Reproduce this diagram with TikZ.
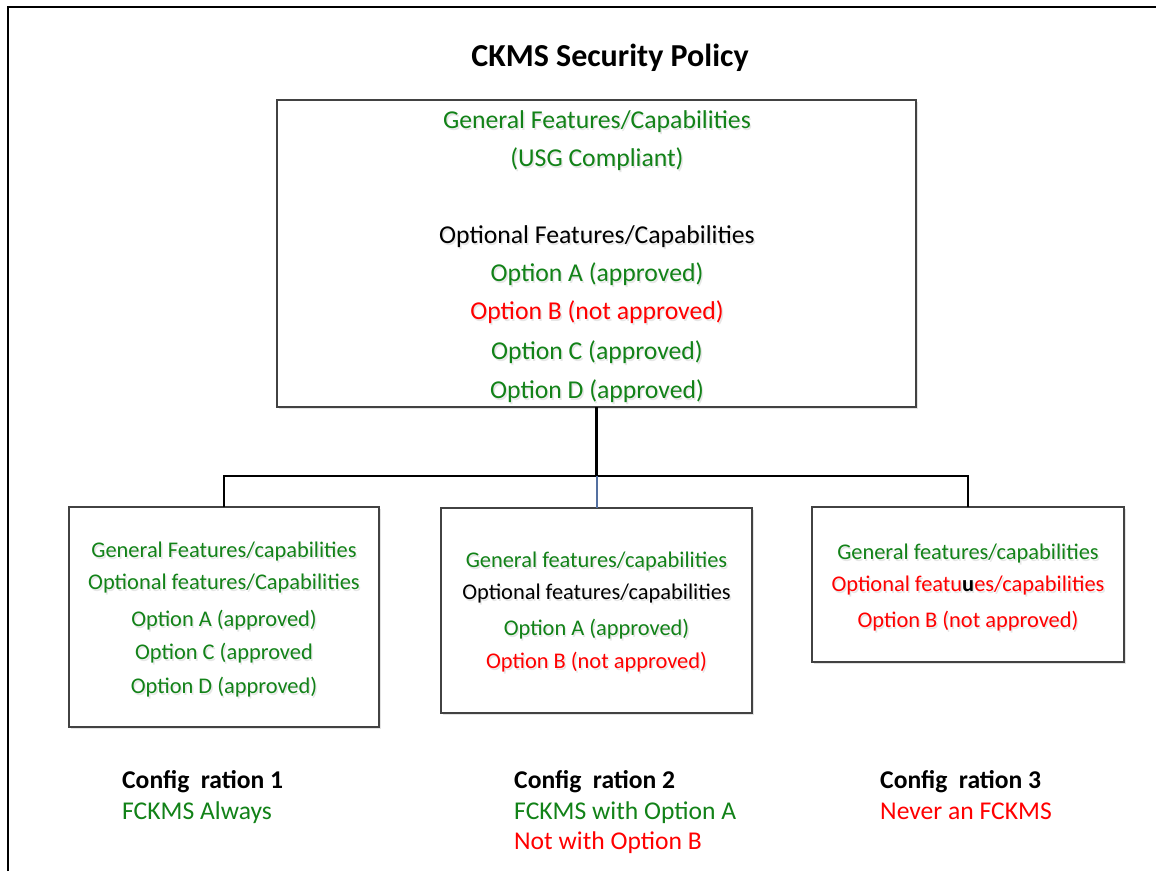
\documentclass[tikz,border=0pt]{standalone}
\usepackage{fontspec}
\setmainfont{Carlito}
\usetikzlibrary{shadows}
\definecolor{okgreen}{RGB}{18,130,24}
\definecolor{nored}{RGB}{255,0,0}
\definecolor{boxgray}{RGB}{66,66,66}
\definecolor{linkblue}{RGB}{84,112,160}

% a line of box text with a soft grey shadow under it
\newcommand\shline[4]{%
  \node[#2, text=black!60, text opacity=0.16, xshift=1.4pt, yshift=-2pt] (#1-sh) at (#3) {\color{black!60}#4};
  \node[#2] (#1) at (#3) {#4};}

\begin{document}
\begin{tikzpicture}[x=1pt,y=-1pt,
  panel/.style={draw=boxgray, line width=2.2pt, fill=white, anchor=north west,
    inner sep=0pt, outer sep=0pt,
    drop shadow={opacity=0.22, shadow xshift=2pt, shadow yshift=-2pt}},
  big/.style={anchor=base, inner sep=0pt, font=\fontsize{25.7}{30}\selectfont},
  small/.style={anchor=base, inner sep=0pt, font=\fontsize{22.4}{27}\selectfont},
  cfg/.style={anchor=base west, inner sep=0pt, font=\fontsize{25.6}{30}\selectfont},
  link/.style={line width=2.4pt},
]
\useasboundingbox (0,0) rectangle (1156,871);
\fill[white] (0,0) rectangle (1156,871);
% outer frame
\draw[line width=2.6pt] (8,871) -- (8,7) -- (1156,7);

% title
\node[anchor=base, inner sep=0pt, font=\fontsize{32}{38}\selectfont\bfseries] (title) at (610,66) {CKMS Security Policy};

% policy box and the three configuration boxes
\node[panel, minimum width=639pt, minimum height=307pt] (policy) at (277,100) {};
\node[panel, minimum width=310pt, minimum height=220pt] (cfgA) at (69,507) {};
\node[panel, minimum width=311pt, minimum height=205pt] (cfgB) at (441,508) {};
\node[panel, minimum width=312pt, minimum height=155pt] (cfgC) at (812,507) {};

% tree connectors
\coordinate (bus) at (policy.south |- 0,476);
\draw[link] (policy.south) -- (bus);
\draw[link] (cfgA.north) |- (bus) -| (cfgC.north);
\draw[line width=2pt, linkblue] (bus) -- (cfgB.north);

% policy contents
\shline{p1}{big, text=okgreen}{597,128}{General Features/Capabilities}
\shline{p2}{big, text=okgreen}{597,166}{(USG Compliant)}
\shline{p3}{big}{597,243}{Optional Features/Capabilities}
\shline{p4}{big, text=okgreen}{597,281}{Option A (approved)}
\shline{p5}{big, text=nored}{597,319}{Option B (not approved)}
\shline{p6}{big, text=okgreen}{597,359}{Option C (approved)}
\shline{p7}{big, text=okgreen}{597,398}{Option D (approved)}

% configuration 1 contents
\shline{a1}{small, text=okgreen}{cfgA.north |- 0,557}{General Features/capabilities}
\shline{a2}{small, text=okgreen}{cfgA.north |- 0,589}{Optional features/Capabilities}
\shline{a3}{small, text=okgreen}{cfgA.north |- 0,626}{Option A (approved)}
\shline{a4}{small, text=okgreen}{cfgA.north |- 0,659}{Option C (approved}
\shline{a5}{small, text=okgreen}{cfgA.north |- 0,693}{Option D (approved)}

% configuration 2 contents
\shline{b1}{small, text=okgreen}{cfgB.north |- 0,567}{General features/capabilities}
\shline{b2}{small}{cfgB.north |- 0,599}{Optional features/capabilities}
\shline{b3}{small, text=okgreen}{cfgB.north |- 0,635}{Option A (approved)}
\shline{b4}{small, text=nored}{cfgB.north |- 0,668}{Option B (not approved)}

% configuration 3 contents
\shline{c1}{small, text=okgreen}{cfgC.north |- 0,559}{General features/capabilities}
\node[small, text opacity=0.16, xshift=1.4pt, yshift=-2pt] (c2-sh) at (cfgC.north |- 0,591) {\color{black!60}Optional featu{\bfseries u}es/capabilities};
\node[small] (c2) at (cfgC.north |- 0,591) {{\color{nored}Optional featu}{\bfseries u}{\color{nored}es/capabilities}};
\shline{c3}{small, text=nored}{cfgC.north |- 0,627}{Option B (not approved)}

% captions under the boxes
\node[cfg, font=\fontsize{25.6}{30}\selectfont\bfseries] (k1) at (122,788) {Config\hspace{0.45em}ration 1};
\node[cfg, text=okgreen] (k1a) at (122,819) {FCKMS Always};
\node[cfg, font=\fontsize{25.6}{30}\selectfont\bfseries] (k2) at (514,788) {Config\hspace{0.45em}ration 2};
\node[cfg, text=okgreen] (k2a) at (514,819) {FCKMS with Option A};
\node[cfg, text=nored] (k2b) at (514,849) {Not with Option B};
\node[cfg, font=\fontsize{25.6}{30}\selectfont\bfseries] (k3) at (880,788) {Config\hspace{0.45em}ration 3};
\node[cfg, text=nored] (k3a) at (880,819) {Never an FCKMS};
\end{tikzpicture}
\end{document}
